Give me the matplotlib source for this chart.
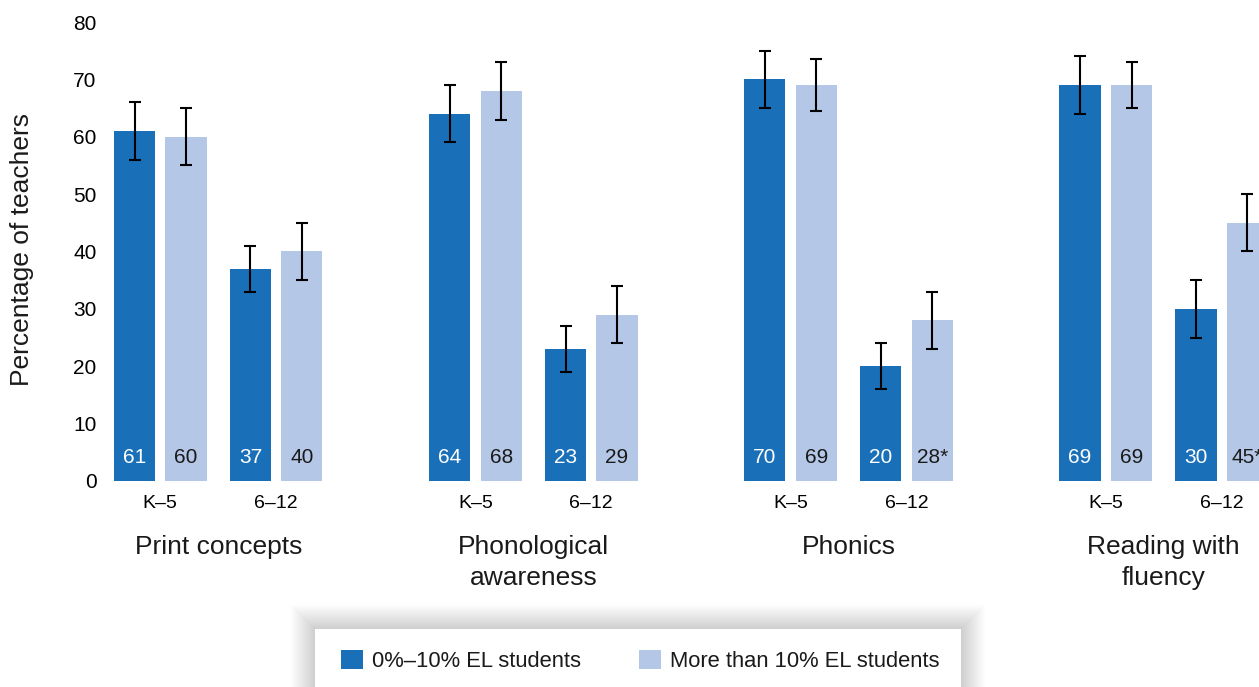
import numpy as np
import matplotlib.pyplot as plt
from matplotlib.patches import Patch, Rectangle
from matplotlib.transforms import blended_transform_factory

plt.rcParams['font.family'] = ['Liberation Sans', 'DejaVu Sans']
plt.rcParams['text.color'] = '#1a1a1a'

DARK = '#1a70b8'
LIGHT = '#b4c7e7'

categories = ['Print concepts', 'Phonological\nawareness', 'Phonics', 'Reading with\nfluency']
grades = ['K\u20135', '6\u201312']
series_names = ['0%\u201310% EL students', 'More than 10% EL students']

# values per category: [K-5, 6-12]
low_el = [[61, 37], [64, 23], [70, 20], [69, 30]]
high_el = [[60, 40], [68, 29], [69, 28], [69, 45]]
low_el_err = [[5, 4], [5, 4], [5, 4], [5, 5]]
high_el_err = [[5, 5], [5, 5], [4.5, 5], [4, 5]]
high_el_notes = [['', ''], ['', ''], ['', '*'], ['', '*']]

GROUP_STEP = 6.12
PAIR_STEP = 2.25
BAR_W = 0.8

fig = plt.figure(figsize=(12.59, 6.87), dpi=100)
ax = fig.add_axes([105 / 1259, 1 - 481 / 687, 1154 / 1259, 459 / 687])

label_tf = blended_transform_factory(ax.transData, ax.transAxes)
err_style = dict(elinewidth=1.5, capsize=4.3, capthick=1.5, ecolor='black')
tick_pos = []
for g, cat in enumerate(categories):
    base = g * GROUP_STEP
    for k in range(2):
        x_dark = base + k * PAIR_STEP
        x_light = x_dark + 1
        ax.bar(x_dark, low_el[g][k], width=BAR_W, color=DARK, yerr=low_el_err[g][k], error_kw=err_style)
        ax.bar(x_light, high_el[g][k], width=BAR_W, color=LIGHT, yerr=high_el_err[g][k], error_kw=err_style)
        ax.annotate(f'{low_el[g][k]}', xy=(x_dark, 0), xytext=(0, 17), textcoords='offset points',
                    ha='center', va='center', fontsize=15, color='white')
        ax.annotate(f'{high_el[g][k]}{high_el_notes[g][k]}', xy=(x_light, 0), xytext=(0, 17),
                    textcoords='offset points', ha='center', va='center', fontsize=15, color='#1a1a1a')
        tick_pos.append((x_dark + x_light) / 2)
    center = base + (PAIR_STEP + 1) / 2
    ax.annotate(cat, xy=(center, 0), xycoords=label_tf, xytext=(0, -39), textcoords='offset points',
                ha='center', va='top', fontsize=19, linespacing=1.38)

ax.set_xticks(tick_pos)
ax.set_xticklabels(grades * len(categories), fontsize=14)
ax.set_xlim(-0.573, 21.835)
ax.set_ylim(0, 80)
ax.set_yticks(range(0, 81, 10))
ax.tick_params(axis='y', length=0, pad=6, labelsize=15)
ax.tick_params(axis='x', length=0, pad=10)
for s in ax.spines.values():
    s.set_visible(False)

fig.text(22 / 1259, 1 - 250 / 687, 'Percentage of teachers', rotation=90,
         ha='center', va='center', fontsize=19)

# legend box with a soft shadow
bx0, bx1, by0 = 315 / 1259, 961 / 1259, 629 / 687
for i in range(24, 0, -1):
    dx, dy = i / 1259, i / 687
    fig.patches.append(Rectangle((bx0 - dx, -0.1), bx1 - bx0 + 2 * dx, 1 - by0 + 0.1 + dy,
                                 transform=fig.transFigure, facecolor='black',
                                 alpha=0.006, edgecolor='none', zorder=1))
fig.patches.append(Rectangle((bx0, -0.1), bx1 - bx0, 1 - by0 + 0.1, transform=fig.transFigure,
                             facecolor='white', edgecolor='none', zorder=2))

handles = [Patch(facecolor=DARK, label=series_names[0]), Patch(facecolor=LIGHT, label=series_names[1])]
leg = fig.legend(handles=handles, ncol=2, loc='center left', bbox_to_anchor=(341 / 1259, 1 - 661 / 687),
                 frameon=False, fontsize=15.8, handlelength=1.0, handleheight=1.0,
                 handletextpad=0.42, columnspacing=2.65, borderpad=0, borderaxespad=0)
leg.set_zorder(3)

fig.savefig('out.png', dpi=100)
